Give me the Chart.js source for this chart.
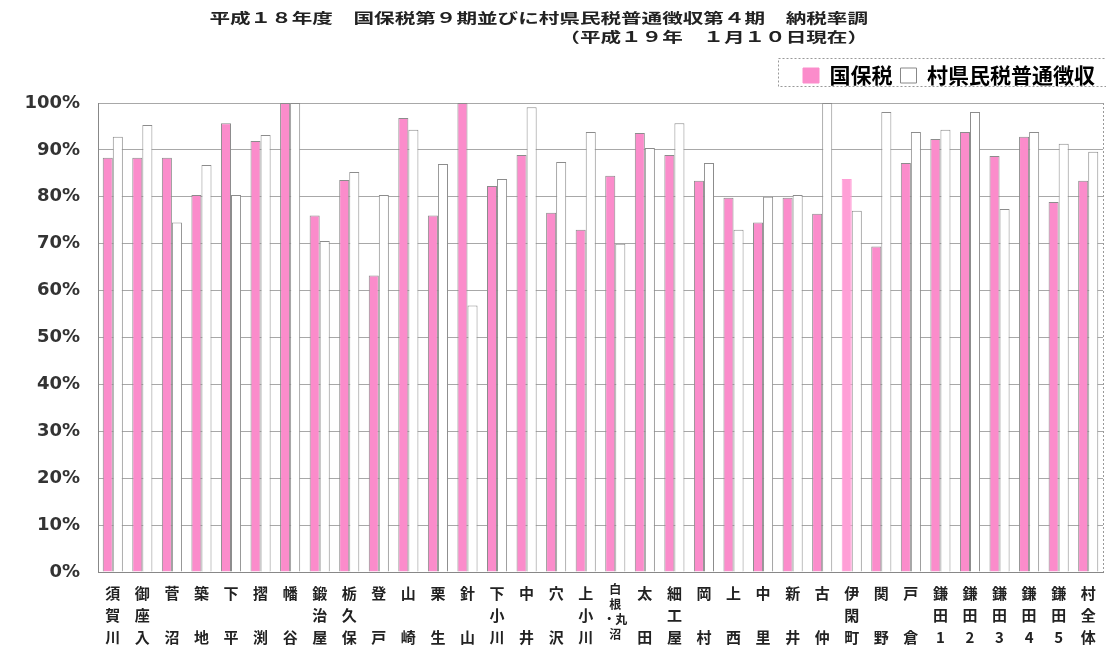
<!DOCTYPE html>
<html lang="ja">
  <head>
    <meta charset="UTF-8" />
    <title>納税率調</title>
    <style>
      html, body { margin: 0; padding: 0; background: #fff; }
      #wrap { width: 1106px; height: 646px; }
    </style>
  </head>
  <body>
    <div id="wrap"><canvas id="myChart" width="1106" height="646"></canvas></div>

    <script src="https://cdn.jsdelivr.net/npm/chart.js@4/dist/chart.umd.min.js"></script>
    <script>
      // data
      const categories = [
        ["須", "賀", "川"], ["御", "座", "入"], ["菅", "", "沼"], ["築", "", "地"],
        ["下", "", "平"], ["摺", "", "渕"], ["幡", "", "谷"], ["鍛", "治", "屋"],
        ["栃", "久", "保"], ["登", "", "戸"], ["山", "", "崎"], ["栗", "", "生"],
        ["針", "", "山"], ["下", "小", "川"], ["中", "", "井"], ["穴", "", "沢"],
        ["上", "小", "川"], ["白", "根", "・丸", "沼"], ["太", "", "田"], ["細", "工", "屋"],
        ["岡", "", "村"], ["上", "", "西"], ["中", "", "里"], ["新", "", "井"],
        ["古", "", "仲"], ["伊", "閑", "町"], ["関", "", "野"], ["戸", "", "倉"],
        ["鎌", "田", "1"], ["鎌", "田", "2"], ["鎌", "田", "3"], ["鎌", "田", "4"],
        ["鎌", "田", "5"], ["村", "全", "体"]
      ];
      const kokuhoRates = [
        88.3, 88.3, 88.3, 80.4, 95.7, 91.9, 100, 76.0,
        83.6, 63.2, 96.8, 76.0, 100, 82.3, 88.9, 76.6,
        73.0, 84.5, 93.6, 88.9, 83.4, 79.8, 74.5, 79.8,
        76.4, 83.8, 69.4, 87.2, 92.3, 93.8, 88.7, 92.8,
        78.9, 83.4
      ];
      const sonkenRates = [
        92.8, 95.3, 74.5, 86.8, 80.4, 93.2, 100, 70.6,
        85.3, 80.4, 94.3, 87.0, 56.8, 83.8, 99.1, 87.4,
        93.8, 70.0, 90.4, 95.7, 87.2, 73.0, 80.0, 80.4,
        100, 77.0, 98.1, 93.8, 94.3, 98.1, 77.4, 93.8,
        91.3, 89.6
      ];
      const seriesNames = ["国保税", "村県民税普通徴収"];
      const titleLines = [
        "平成１８年度　国保税第９期並びに村県民税普通徴収第４期　納税率調",
        "（平成１９年　１月１０日現在）"
      ];

      const PINK = "#fb8ccb";
      const PINK_LIGHT = "#ff9fd6";
      const EDGE = "#8c8c8c";
      const CJK = "'Noto Sans CJK JP', 'Noto Sans', sans-serif";

      // the reference picture is stretched sideways, so the title is too
      const titlePlugin = {
        id: "titleText",
        afterDraw(chart) {
          const ctx = chart.ctx;
          ctx.save();
          ctx.fillStyle = "#222";
          ctx.font = "bold 14px " + CJK;
          ctx.textAlign = "right";
          ctx.textBaseline = "middle";
          ctx.translate(868, 0);
          ctx.scale(1.47, 1);
          ctx.fillText(titleLines[0], 0, 18);
          ctx.fillText(titleLines[1], 0, 37);
          ctx.restore();
        }
      };

      // leave a gap between the legend and the plot
      const legendGap = {
        id: "legendGap",
        beforeInit(chart) {
          const lg = chart.legend;
          const fit = lg.fit;
          lg.fit = function () {
            fit.call(this);
            this.height += 7;
          };
        }
      };

      const framePlugin = {
        id: "frame",
        afterDraw(chart) {
          const ctx = chart.ctx;
          const a = chart.chartArea;
          const lg = chart.legend;
          ctx.save();
          ctx.strokeStyle = "#999";
          ctx.lineWidth = 1;
          ctx.setLineDash([2, 2]);
          ctx.beginPath();
          ctx.moveTo(a.right + 0.5, a.top);
          ctx.lineTo(a.right + 0.5, a.bottom);
          ctx.stroke();
          ctx.strokeRect(778.5, lg.top + 1.5, 340, 28);
          ctx.restore();
        }
      };

      new Chart(document.getElementById("myChart"), {
        type: "bar",
        data: {
          labels: categories,
          datasets: [
            {
              label: seriesNames[0],
              data: kokuhoRates,
              backgroundColor: ctx => ctx.dataIndex === 25 ? PINK_LIGHT : PINK,
              borderColor: ctx => ctx.dataIndex === 25 ? PINK_LIGHT : EDGE,
              borderWidth: 1,
              barPercentage: 1,
              categoryPercentage: 0.68
            },
            {
              label: seriesNames[1],
              data: sonkenRates,
              backgroundColor: "#ffffff",
              borderColor: EDGE,
              borderWidth: 1,
              barPercentage: 1,
              categoryPercentage: 0.68
            }
          ]
        },
        options: {
          responsive: false,
          animation: false,
          layout: { padding: { top: 57, right: 3, left: 0, bottom: 0 } },
          plugins: {
            title: { display: false },
            tooltip: { enabled: false },
            legend: {
              position: "top",
              align: "end",
              labels: {
                color: "#222",
                font: { family: CJK, size: 21, weight: "bold" },
                boxWidth: 16,
                boxHeight: 15,
                padding: 8,
                generateLabels: chart => chart.data.datasets.map((ds, i) => ({
                  text: ds.label,
                  fillStyle: i === 0 ? PINK : "#ffffff",
                  strokeStyle: i === 0 ? PINK : "#888",
                  lineWidth: 1,
                  datasetIndex: i
                }))
              }
            }
          },
          scales: {
            x: {
              grid: { display: false },
              border: { display: true, color: "#888" },
              afterFit: s => { s.height = 74; },
              ticks: {
                autoSkip: false,
                maxRotation: 0,
                minRotation: 0,
                padding: 2,
                color: "#222",
                font: ctx => ctx.index === 17
                  ? { family: CJK, size: 12, weight: "bold", lineHeight: "15px" }
                  : { family: CJK, size: 15, weight: "bold", lineHeight: "22px" }
              }
            },
            y: {
              min: 0,
              max: 100,
              afterFit: s => { s.width = 98; },
              grid: { color: "#a8a8a8", drawTicks: false },
              border: { display: true, color: "#888", dash: [] },
              ticks: {
                stepSize: 10,
                padding: 18,
                color: "#333",
                font: { family: "'DejaVu Sans', sans-serif", size: 18, weight: "bold" },
                callback: v => v + "%"
              }
            }
          }
        },
        plugins: [titlePlugin, legendGap, framePlugin]
      });
    </script>
  </body>
</html>
